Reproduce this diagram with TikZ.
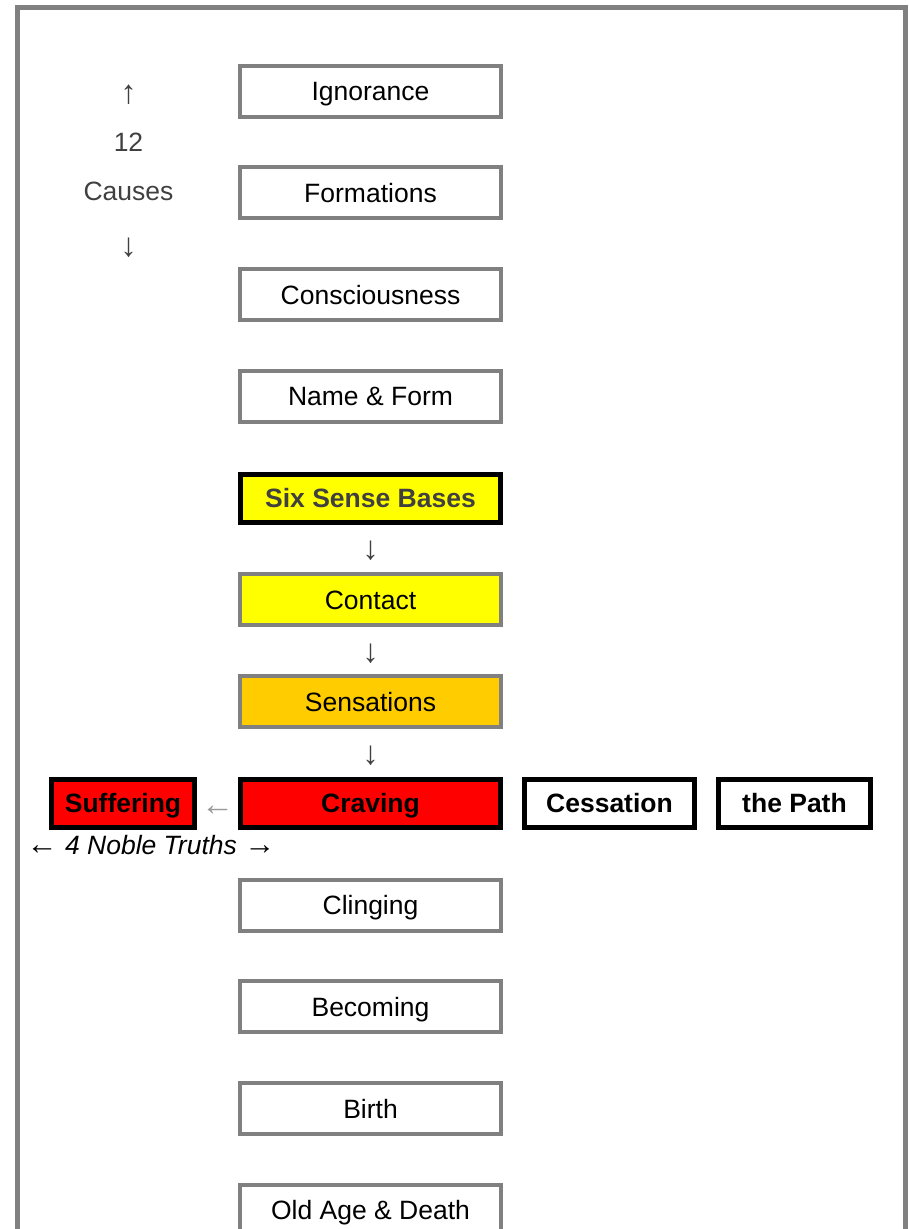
\documentclass[tikz,border=0pt]{standalone}
\usepackage{fontspec}
\setmainfont{Liberation Sans}
\usetikzlibrary{calc}
\definecolor{framegray}{HTML}{808080}
\definecolor{darktext}{HTML}{404040}
\definecolor{lightarrow}{HTML}{999999}
\definecolor{sixyellow}{HTML}{FFFF00}
\definecolor{sensorange}{HTML}{FFCC00}
\definecolor{cravered}{HTML}{FF0000}
\tikzset{
  base/.style={font=\fontsize{26.5}{30}\selectfont, text height=19pt, text depth=0pt, inner sep=0pt},
  linkbox/.style={base, draw=framegray, line width=4pt, fill=white, minimum width=261pt, minimum height=51pt},
  keybox/.style={base, draw=black, line width=5pt, minimum height=48pt, font=\fontsize{26.5}{30}\selectfont\bfseries},
  sidetext/.style={base, text=darktext},
  downarrow/.style={base, text=darktext, font=\fontsize{33}{36}\selectfont},
}
\begin{document}
\begin{tikzpicture}[x=1pt,y=-1pt]
\useasboundingbox (0,0) rectangle (909,1229);
\clip (0,0) rectangle (909,1229);
\draw[framegray, line width=5pt] (17.5,1240) -- (17.5,7.5) -- (905,7.5) -- (905,1240);

\node[linkbox] (ign) at (370.5,91) {Ignorance};
\node[linkbox] (form) at (370.5,192.75) {Formations};
\node[linkbox] (cons) at (370.5,294.5) {Consciousness};
\node[linkbox] (name) at (370.5,396.25) {Name \& Form};
\node[keybox, fill=sixyellow, text=darktext, minimum width=260pt] (six) at (370.5,498) {Six Sense Bases};
\node[linkbox, fill=sixyellow] (cont) at (370.5,599.75) {Contact};
\node[linkbox, fill=sensorange] (sens) at (370.5,701.5) {Sensations};
\node[keybox, fill=cravered, minimum width=260pt] (crav) at (370.5,803) {Craving};
\node[keybox, fill=cravered, minimum width=143pt] (suff) at (123,803) {Suffering};
\node[keybox, fill=white, minimum width=170pt] (cess) at (609.5,803) {Cessation};
\node[keybox, fill=white, minimum width=152pt] (path) at (794.5,803) {the Path};
\node[linkbox] (cling) at (370.5,905) {Clinging};
\node[linkbox] (becom) at (370.5,1006.75) {Becoming};
\node[linkbox] (birth) at (370.5,1108.5) {Birth};
\node[linkbox] (old) at (370.5,1210.25) {Old Age \& Death};

\node[downarrow] (a1) at ($(six.south)!0.5!(cont.north)+(0,2)$) {↓};
\node[downarrow] (a2) at ($(cont.south)!0.5!(sens.north)+(0,2)$) {↓};
\node[downarrow] (a3) at ($(sens.south)!0.5!(crav.north)+(0,2)$) {↓};
\node[downarrow, text=lightarrow] (a4) at ($(suff.east)!0.5!(crav.west)+(0,3)$) {←};

\node[downarrow] (up) at (128.5,94) {↑};
\node[sidetext] (twelve) at (128.5,142) {12};
\node[sidetext] (causes) at (128.5,191) {Causes};
\node[downarrow] (down) at (128.5,247) {↓};

\node[base, font=\fontsize{26.5}{30}\selectfont\itshape] (truths) at (151,845) {{\fontsize{31}{34}\selectfont\upshape ←} 4 Noble Truths {\fontsize{31}{34}\selectfont\upshape →}};
\end{tikzpicture}
\end{document}
